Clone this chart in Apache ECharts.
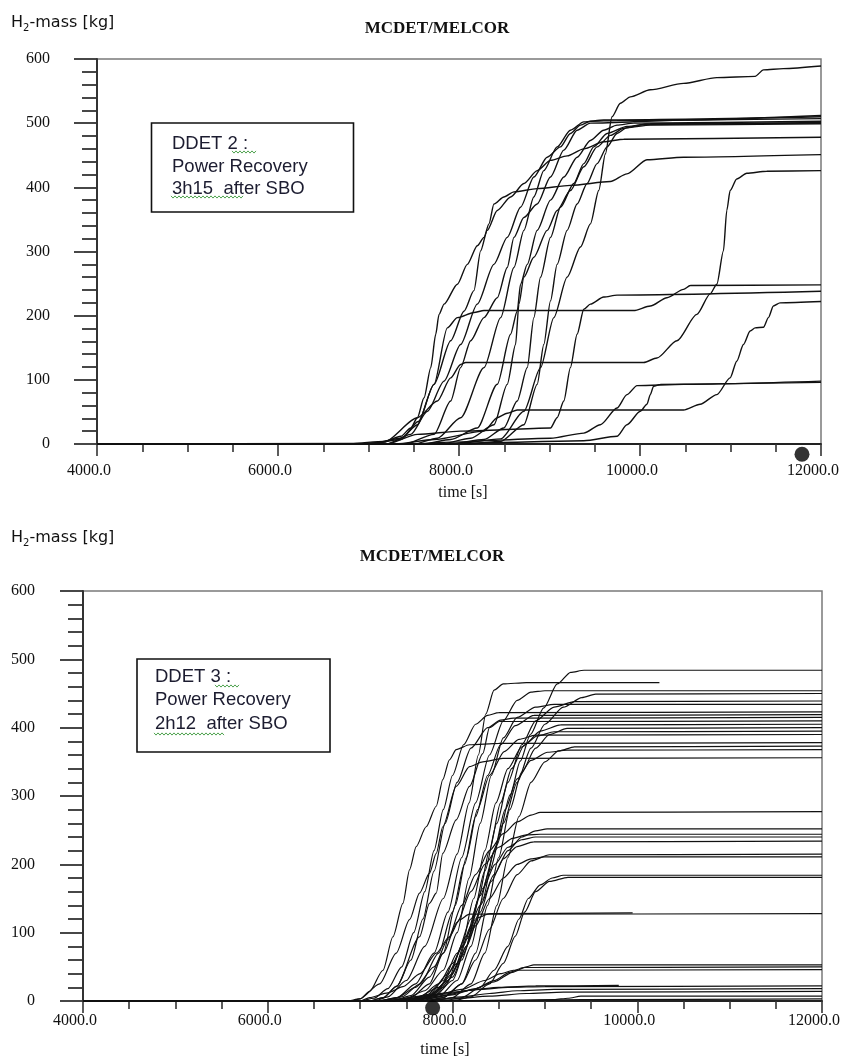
<!DOCTYPE html>
<html>
<head>
<meta charset="utf-8">
<title>MCDET/MELCOR – H2 mass</title>
<script src="https://cdn.jsdelivr.net/npm/echarts@6/dist/echarts.min.js"></script>
<style>
  html, body { margin: 0; padding: 0; background: #ffffff; }
  #chart { width: 843px; height: 1061px; }
</style>
</head>
<body>
<div id="chart"></div>
<script>
// ---------- axis settings ----------
const timeTicks = [4000, 6000, 8000, 10000, 12000];
const massTicks = [0, 100, 200, 300, 400, 500, 600];

// ---------- DDET 2 : power recovery 3h15 after SBO  ([time s, H2 mass kg]) ----------
const d2_a = [[4000,0],[7908,0],[8460,8],[8717,51],[8901,119],[9048,197],[9195,260],[9342,307],[9452,343],[9544,395],[9617,452],[9691,510],[9783,531],[9893,541],[10114,552],[10481,562],[10849,571],[11272,573],[11364,583],[11584,585],[12000,589]];
const d2_b = [[4000,0],[7400,0],[7724,15],[7908,67],[8018,119],[8129,161],[8276,197],[8423,228],[8533,275],[8607,322],[8717,353],[8864,374],[9011,416],[9158,458],[9305,489],[9452,500],[10500,505],[12000,512]];
const d2_c = [[4000,0],[7500,0],[7761,9],[8018,41],[8276,119],[8460,197],[8607,275],[8717,333],[8827,385],[8937,426],[9084,463],[9231,489],[9379,502],[9599,505],[12000,510]];
const d2_d = [[4000,0],[7200,0],[7467,15],[7651,51],[7835,98],[8018,155],[8202,218],[8386,280],[8533,322],[8680,369],[8827,416],[8974,447],[9121,463],[9231,484],[9342,497],[9452,503],[9746,504],[12000,507]];
const d2_e = [[4000,0],[7600,0],[7908,7],[8202,25],[8423,93],[8570,171],[8643,207],[8680,249],[8754,280],[8864,333],[9011,380],[9158,416],[9305,447],[9452,473],[9599,489],[9746,497],[9930,500],[12000,503]];
const d2_f = [[4000,0],[7800,0],[8129,9],[8386,30],[8533,93],[8625,155],[8662,218],[8717,260],[8827,291],[8974,333],[9084,364],[9231,395],[9379,432],[9526,463],[9673,481],[9820,492],[10040,498],[12000,501]];
const d2_g = [[4000,0],[7900,0],[8276,7],[8496,25],[8643,67],[8754,119],[8827,197],[8901,260],[9011,322],[9121,369],[9268,406],[9379,437],[9489,463],[9636,484],[9856,495],[10114,499],[12000,500]];
const d2_h = [[4000,0],[8100,0],[8460,4],[8717,30],[8864,93],[8937,155],[9011,223],[9084,280],[9195,333],[9305,374],[9415,406],[9526,437],[9636,463],[9746,484],[9856,493],[10114,497],[12000,499]];
const d2_i = [[4000,0],[7000,0],[7357,9],[7540,30],[7724,93],[7908,161],[8055,207],[8165,239],[8239,301],[8312,333],[8423,364],[8570,385],[8717,406],[8864,426],[9011,442],[9195,449],[9379,460],[9599,471],[9820,475],[12000,478]];
const d2_j = [[4000,0],[6805,1],[7173,4],[7357,12],[7467,25],[7540,41],[7614,72],[7688,119],[7743,171],[7779,202],[7835,218],[7982,249],[8092,280],[8202,309],[8276,322],[8331,343],[8386,374],[8496,385],[8607,393],[8864,398],[9231,403],[9673,409],[9856,421],[10077,443],[10481,447],[12000,451]];
const d2_k = [[4000,0],[6900,0],[7173,3],[7540,41],[7761,67],[7908,103],[8018,124],[8074,127],[10040,127],[10187,134],[10408,161],[10628,202],[10775,234],[10849,249],[10922,301],[10959,364],[10996,395],[11069,413],[11180,422],[11400,425],[12000,426]];
const d2_l = [[4000,0],[7000,0],[7357,7],[7550,35],[7724,93],[7871,181],[7982,197],[8165,205],[8276,208],[9930,208],[10114,215],[10298,228],[10481,241],[10555,247],[12000,248]];
const d2_m = [[4000,0],[7200,0],[7540,15],[8018,20],[9011,25],[9084,41],[9158,67],[9231,119],[9305,171],[9379,210],[9452,218],[9599,229],[9746,232],[12000,238]];
const d2_n = [[4000,0],[7300,0],[7724,7],[8276,20],[8423,41],[8533,48],[8643,53],[10481,53],[10665,62],[10849,77],[10996,103],[11069,129],[11143,155],[11217,176],[11272,181],[11364,182],[11419,197],[11474,215],[11547,220],[12000,222]];
const d2_o = [[4000,0],[7500,0],[7908,3],[9011,9],[9379,17],[9562,30],[9746,56],[9856,77],[9967,91],[10481,93],[12000,98]];
const d2_p = [[4000,0],[7800,0],[8276,2],[9379,5],[9746,12],[9856,30],[10003,51],[10077,62],[10114,77],[10150,90],[10224,93],[12000,96]];
const d2_marker = [[11790,-16]];

// ---------- DDET 3 : power recovery 2h12 after SBO ----------
const d3_u01 = [[4000,0],[7300,0],[7500,2],[7755,10],[7950,40],[8118,81],[8299,154],[8480,228],[8625,302],[8734,351],[8843,390],[8988,429],[9134,464],[9279,481],[9424,484],[12000,484]];
const d3_u02 = [[4000,0],[7150,0],[7300,6],[7500,30],[7700,80],[7900,150],[8050,215],[8180,290],[8280,360],[8360,420],[8450,455],[8550,464],[8800,466],[10240,466]];
const d3_u03 = [[4000,0],[7200,0],[7400,5],[7600,25],[7800,70],[7950,130],[8100,210],[8250,290],[8400,360],[8550,410],[8700,440],[8850,452],[9000,454],[12000,454]];
const d3_u04 = [[4000,0],[7500,0],[7700,5],[7900,20],[8100,60],[8250,120],[8400,190],[8550,260],[8700,320],[8850,370],[9000,405],[9200,430],[9400,444],[9550,449],[12000,450]];
const d3_u05 = [[4000,0],[7400,0],[7600,4],[7850,20],[8050,55],[8200,110],[8350,190],[8480,260],[8600,320],[8750,375],[8900,410],[9100,430],[9320,438],[12000,439]];
const d3_u06 = [[4000,0],[7300,0],[7500,4],[7700,15],[7900,45],[8050,100],[8180,180],[8300,260],[8420,330],[8550,385],[8700,415],[8900,430],[9100,434],[12000,434]];
const d3_u07 = [[4000,0],[7000,0],[7150,4],[7300,18],[7450,50],[7580,100],[7700,160],[7800,220],[7900,280],[8000,330],[8120,375],[8250,405],[8380,418],[8500,422],[12000,423]];
const d3_u08 = [[4000,0],[7250,0],[7450,6],[7650,25],[7850,70],[8000,130],[8130,200],[8250,270],[8380,330],[8520,375],[8680,403],[8880,418],[12000,419]];
const d3_u09 = [[4000,0],[7100,0],[7250,5],[7400,22],[7550,60],[7680,120],[7800,190],[7920,260],[8050,320],[8200,370],[8380,400],[8520,411],[8660,414],[12000,415]];
const d3_u10 = [[4000,0],[7100,0],[7250,5],[7391,21],[7643,94],[7751,143],[7824,158],[7895,216],[8040,265],[8184,314],[8328,362],[8400,400],[8508,409],[12000,410]];
const d3_u11 = [[4000,0],[7600,0],[7800,6],[8000,30],[8150,80],[8280,150],[8400,220],[8520,290],[8640,340],[8780,375],[8950,395],[9170,404],[12000,405]];
const d3_u12 = [[4000,0],[7700,0],[7900,5],[8100,25],[8250,70],[8380,140],[8500,210],[8620,280],[8750,335],[8900,370],[9050,390],[9240,399],[12000,400]];
const d3_u13 = [[4000,0],[7550,0],[7750,6],[7950,30],[8100,80],[8230,150],[8350,220],[8470,290],[8600,340],[8750,372],[8920,388],[9100,394],[12000,395]];
const d3_u14 = [[4000,0],[7350,0],[7550,5],[7750,25],[7900,70],[8030,140],[8150,210],[8270,280],[8400,330],[8560,365],[8720,383],[8900,389],[12000,390]];
const d3_u15 = [[4000,0],[6850,0],[7000,3],[7103,14],[7247,45],[7355,94],[7463,143],[7535,192],[7607,226],[7715,255],[7824,285],[7895,324],[7967,353],[8040,368],[8184,375],[8500,377],[12000,378]];
const d3_u16 = [[4000,0],[7800,0],[8000,5],[8200,25],[8350,70],[8480,140],[8600,210],[8720,270],[8850,320],[9000,350],[9150,366],[9320,372],[12000,373]];
const d3_u17 = [[4000,0],[7650,0],[7850,6],[8050,30],[8200,80],[8330,150],[8450,220],[8570,280],[8700,325],[8850,352],[9030,364],[9240,367],[12000,368]];
const d3_u18 = [[4000,0],[6900,0],[6995,3],[7211,25],[7391,70],[7535,119],[7643,158],[7751,187],[7824,216],[7895,255],[8040,314],[8184,343],[8328,350],[8544,355],[12000,356]];
const d3_m01 = [[4000,0],[7200,0],[7400,5],[7600,20],[7800,50],[7950,90],[8100,140],[8250,185],[8400,220],[8550,245],[8700,262],[8850,272],[8950,276],[12000,277]];
const d3_m02 = [[4000,0],[7450,0],[7650,6],[7850,25],[8000,55],[8150,95],[8300,140],[8450,185],[8600,220],[8750,240],[8900,249],[9025,252],[12000,252]];
const d3_m03 = [[4000,0],[7350,0],[7550,8],[7750,35],[7900,70],[8050,115],[8200,160],[8350,200],[8500,225],[8650,238],[8800,243],[8950,244],[12000,244]];
const d3_m04 = [[4000,0],[7500,0],[7700,6],[7900,30],[8050,70],[8200,120],[8330,165],[8460,200],[8600,225],[8750,236],[8900,240],[12000,240]];
const d3_m05 = [[4000,0],[7600,0],[7800,8],[8000,35],[8150,80],[8300,130],[8420,175],[8550,208],[8700,226],[8880,233],[12000,234]];
const d3_m06 = [[4000,0],[7700,0],[7900,5],[8100,25],[8250,60],[8400,105],[8550,150],[8700,185],[8850,205],[9050,214],[12000,215]];
const d3_m07 = [[4000,0],[7550,0],[7750,8],[7950,30],[8100,65],[8250,110],[8400,150],[8550,180],[8700,200],[8850,208],[9000,211],[12000,211]];
const d3_m08 = [[4000,0],[7900,0],[8100,5],[8300,20],[8450,45],[8600,80],[8720,120],[8820,150],[8950,170],[9080,180],[9200,184],[12000,184]];
const d3_m09 = [[4000,0],[8000,0],[8200,6],[8400,25],[8550,55],[8680,95],[8780,130],[8900,160],[9050,175],[9250,181],[12000,181]];
const d3_m10 = [[4000,0],[7000,0],[7103,5],[7300,12],[7463,21],[7650,40],[7824,70],[7967,94],[8076,119],[8184,127],[12000,128]];
const d3_m11 = [[4000,0],[7600,0],[7800,10],[8000,40],[8150,90],[8280,122],[8400,128],[9950,129]];
const d3_l01 = [[4000,0],[7300,0],[7600,3],[7900,8],[8200,16],[8450,28],[8650,42],[8800,50],[8880,53],[12000,53]];
const d3_l02 = [[4000,0],[7400,0],[7700,3],[8000,9],[8250,18],[8450,30],[8620,42],[8770,49],[12000,50]];
const d3_l03 = [[4000,0],[7200,0],[7500,3],[7800,8],[8100,17],[8350,30],[8520,40],[8660,45],[12000,46]];
const d3_l04 = [[4000,0],[7100,0],[7400,3],[7700,8],[8000,13],[8300,17],[8600,20],[9000,21],[12000,22]];
const d3_l05 = [[4000,0],[7500,0],[7800,2],[8100,6],[8400,11],[8700,15],[9100,17],[12000,18]];
const d3_l06 = [[4000,0],[7600,0],[8000,3],[8400,7],[8800,11],[9200,13],[12000,14]];
const d3_l07 = [[4000,0],[8000,0],[8600,1],[9100,2],[9250,4],[9390,7],[12000,7]];
const d3_l08 = [[4000,0],[7800,0],[8500,1],[9400,2],[12000,3]];
const d3_l09 = [[4000,0],[7300,0],[7600,4],[7900,10],[8200,16],[8500,20],[8900,22],[9800,23]];
const d3_marker = [[7785,-10]];

const ddet2Runs = [d2_a, d2_b, d2_c, d2_d, d2_e, d2_f, d2_g, d2_h, d2_i, d2_j, d2_k, d2_l, d2_m, d2_n, d2_o, d2_p];
const ddet3Runs = [d3_u01, d3_u02, d3_u03, d3_u04, d3_u05, d3_u06, d3_u07, d3_u08, d3_u09, d3_u10,
  d3_u11, d3_u12, d3_u13, d3_u14, d3_u15, d3_u16, d3_u17, d3_u18,
  d3_m01, d3_m02, d3_m03, d3_m04, d3_m05, d3_m06, d3_m07, d3_m08, d3_m09, d3_m10, d3_m11,
  d3_l01, d3_l02, d3_l03, d3_l04, d3_l05, d3_l06, d3_l07, d3_l08, d3_l09];

// ---------- styling helpers ----------
const SERIF = '"Liberation Serif", "Times New Roman", serif';
const SANS = '"Liberation Sans", Arial, sans-serif';
const INK = '#111111';

function xAxisFor(gridIndex, labelMargin) {
  return {
    type: 'value', gridIndex,
    min: timeTicks[0], max: timeTicks[timeTicks.length - 1], interval: 2000,
    axisLine: { show: true, onZero: false, lineStyle: { color: '#222', width: 1.8 } },
    axisTick: { show: true, length: 12, lineStyle: { color: '#333', width: 1.6 } },
    minorTick: { show: true, splitNumber: 4, length: 8, lineStyle: { color: '#333', width: 1.6 } },
    splitLine: { show: false }, minorSplitLine: { show: false },
    axisLabel: {
      margin: labelMargin, fontFamily: SERIF, fontSize: 16, color: INK,
      padding: [0, 16, 0, 0],
      formatter: v => timeTicks.includes(v) ? v.toFixed(1) : ''
    }
  };
}
function yAxisFor(gridIndex, labelMargin) {
  return {
    type: 'value', gridIndex,
    min: massTicks[0], max: massTicks[massTicks.length - 1], interval: 100,
    axisLine: { show: true, onZero: false, lineStyle: { color: '#333', width: 2 } },
    axisTick: { show: true, length: 23, lineStyle: { color: '#333', width: 1.8 } },
    minorTick: { show: true, splitNumber: 5, length: 15, lineStyle: { color: '#333', width: 1.8 } },
    splitLine: { show: false }, minorSplitLine: { show: false },
    axisLabel: { margin: labelMargin, fontFamily: SERIF, fontSize: 16, color: INK,
      formatter: v => massTicks.includes(v) ? String(v) : '' }
  };
}
function runSeries(runs, idx, width) {
  return runs.map(d => ({
    type: 'line', xAxisIndex: idx, yAxisIndex: idx, data: d,
    symbol: 'none', showSymbol: false, smooth: 0.25, smoothMonotone: 'x',
    lineStyle: { color: INK, width: width }, silent: true, z: 3
  }));
}
function markerSeries(data, idx) {
  return {
    type: 'scatter', xAxisIndex: idx, yAxisIndex: idx, data,
    symbol: 'circle', symbolSize: 15, clip: false, silent: true, z: 6,
    itemStyle: { color: '#000' }
  };
}
function textEl(str, x, y, font, align, fill) {
  return {
    type: 'text', silent: true, z: 20,
    style: { text: str, x, y, font, fill: fill || INK, align: align, textAlign: align,
      verticalAlign: 'middle', textVerticalAlign: 'middle' }
  };
}
function yName(x, y) {
  const f = '16px "DejaVu Sans", Verdana, sans-serif';
  return [
    textEl('H', x, y, f, 'left'),
    textEl('2', x + 12, y + 5, '10px "DejaVu Sans", Verdana, sans-serif', 'left'),
    textEl('-mass [kg]', x + 18.5, y, f, 'left')
  ];
}
// spell-check style wavy underline under a word
function squiggle(x0, x1, y) {
  const pts = [];
  let up = true;
  for (let x = x0; x <= x1; x += 2) { pts.push([x, y + (up ? -1.1 : 1.1)]); up = !up; }
  return { type: 'polyline', silent: true, z: 21, shape: { points: pts },
    style: { stroke: '#4fa34f', lineWidth: 1, fill: null } };
}
function infoBox(x, y, w, h, tx, lines, lineYs) {
  const els = [{ type: 'rect', silent: true, z: 19,
    shape: { x, y, width: w, height: h },
    style: { fill: '#ffffff', stroke: '#111', lineWidth: 1.6 } }];
  lines.forEach((s, i) => els.push(textEl(s, tx, lineYs[i], '18.5px ' + SANS, 'left', '#1c1c30')));
  return els;
}

const titleFont = 'bold 17px ' + SERIF;
const graphics = [].concat(
  yName(11, 23),
  [textEl('MCDET/MELCOR', 437, 29, titleFont, 'center')],
  [textEl('time [s]', 463, 493, '16px ' + SERIF, 'center')],
  infoBox(151.5, 123, 202, 89, 172, ['DDET 2 :', 'Power Recovery', '3h15  after SBO'], [143.5, 166.5, 188.5]),
  [squiggle(232, 256, 152), squiggle(171, 243, 197)],

  yName(11, 538),
  [textEl('MCDET/MELCOR', 432, 557, titleFont, 'center')],
  [textEl('time [s]', 445, 1050, '16px ' + SERIF, 'center')],
  infoBox(137, 659, 193, 93, 155, ['DDET 3 :', 'Power Recovery', '2h12  after SBO'], [677, 700, 724]),
  [squiggle(215, 239, 686), squiggle(154, 225, 734)]
);

const chart = echarts.init(document.getElementById('chart'), null, { renderer: 'canvas' });
chart.setOption({
  backgroundColor: '#ffffff',
  animation: false,
  grid: [
    { left: 97, top: 59, width: 724, height: 385, show: true, borderColor: '#7a7a7a', borderWidth: 1.5, backgroundColor: 'transparent' },
    { left: 83, top: 591, width: 740, height: 410, show: true, borderColor: '#7a7a7a', borderWidth: 1.5, backgroundColor: 'transparent' }
  ],
  xAxis: [xAxisFor(0, 19), xAxisFor(1, 12)],
  yAxis: [yAxisFor(0, 47), yAxisFor(1, 48)],
  series: [].concat(
    runSeries(ddet2Runs, 0, 1.4), [markerSeries(d2_marker, 0)],
    runSeries(ddet3Runs, 1, 1.2), [markerSeries(d3_marker, 1)]
  ),
  graphic: graphics
});
</script>
</body>
</html>
